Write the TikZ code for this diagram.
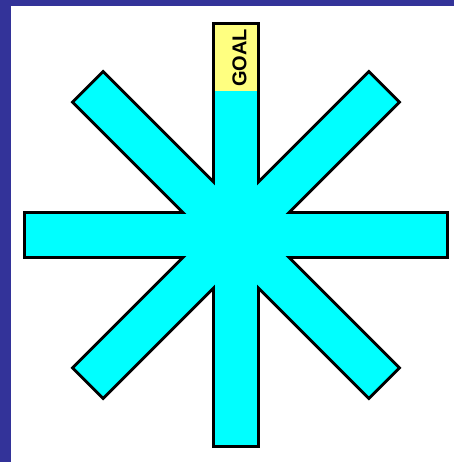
\documentclass[tikz,border=0pt]{standalone}
\usepackage{fontspec}
\setmainfont{Liberation Sans}
\definecolor{frameblue}{HTML}{333399}
\definecolor{armcyan}{HTML}{00FFFF}
\definecolor{goalyellow}{HTML}{FFFF80}
\begin{document}
\begin{tikzpicture}[x=1pt,y=1pt,
  armline/.style={draw=black,line width=6pt,line join=miter},
  armfill/.style={fill=armcyan,draw=none}]
\useasboundingbox (0,0) rectangle (454,462);
\fill[white] (0,0) rectangle (454,462);
\fill[frameblue] (0,0) rectangle (11,462);
\fill[frameblue] (0,456) rectangle (454,462);
\coordinate (c) at (236,227);
% outlines
\foreach \a in {0,90}{
  \draw[armline,rotate around={\a:(c)}] ([shift={(-210,-21)}]c) rectangle ([shift={(210,21)}]c);
}
\foreach \a in {45,135}{
  \draw[armline,rotate around={\a:(c)}] ([shift={(-208,-20)}]c) rectangle ([shift={(208,20)}]c);
}
% fills
\foreach \a in {0,90}{
  \fill[armfill,rotate around={\a:(c)}] ([shift={(-210,-21)}]c) rectangle ([shift={(210,21)}]c);
}
\foreach \a in {45,135}{
  \fill[armfill,rotate around={\a:(c)}] ([shift={(-208,-20)}]c) rectangle ([shift={(208,20)}]c);
}
\fill[goalyellow] ([shift={(-21,144)}]c) rectangle ([shift={(21,210)}]c);
\node[rotate=90,inner sep=0pt,font=\fontsize{20}{20}\selectfont\bfseries] (goal) at (239.5,404) {GOAL};
\end{tikzpicture}
\end{document}
